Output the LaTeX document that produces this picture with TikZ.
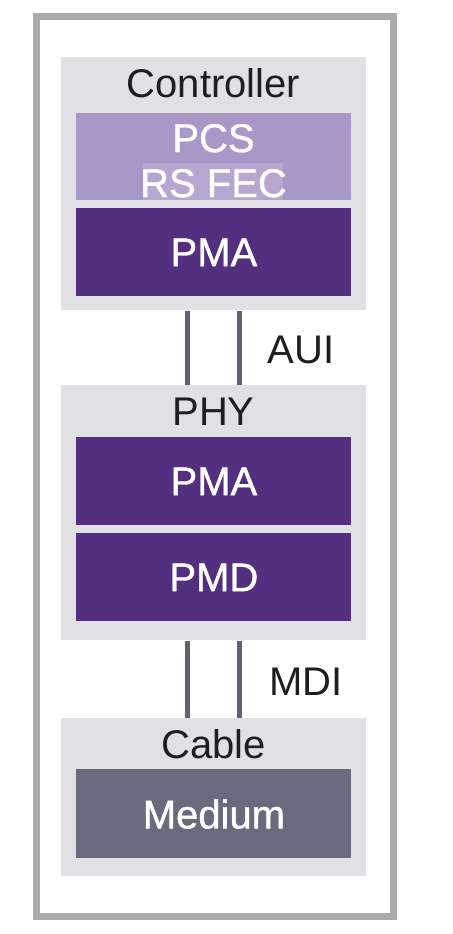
\documentclass[tikz,border=0pt]{standalone}
\usepackage{fontspec}
\setmainfont{Liberation Sans}
\newfontfamily\medfont[BoldFont={Liberation Sans},
                       BoldFeatures={FakeBold=1.0}]{Liberation Sans}
\definecolor{FrameGray}  {RGB}{171,171,171}
\definecolor{LayerGray}  {RGB}{225,225,229}
\definecolor{PurpleLight}{RGB}{168,152,200}
\definecolor{PurpleHi}   {RGB}{181,167,208}
\definecolor{PurpleDark} {RGB}{82,48,127}
\definecolor{MediumGray} {RGB}{103,107,125}
\definecolor{LinkGray}   {RGB}{95,98,119}
\definecolor{TextDark}   {RGB}{30,30,30}
\usetikzlibrary{positioning}

\begin{document}
\begin{tikzpicture}[x=0.5pt,y=-0.5pt,
    layer/.style={fill=LayerGray,draw=none,anchor=north west,
                  minimum width=152.5pt,inner sep=0pt},
    block/.style={draw=none,anchor=north west,minimum width=137.5pt,
                  minimum height=44pt,inner sep=0pt,text=white,
                  text depth=0pt,font=\fontsize{20}{24}\medfont\bfseries},
    title/.style={anchor=base,text=TextDark,inner sep=0pt,
                  font=\fontsize{20}{24}\selectfont},
    whitetitle/.style={title,text=white,
                  font=\fontsize{20}{24}\medfont\bfseries},
    link/.style={LinkGray,line width=2.5pt}]
  \useasboundingbox (0,0) rectangle (452,934);
  %% outer frame
  \draw[FrameGray,line width=3.5pt](36.5,16.5) rectangle (393,916);
  %% Controller
  \node[layer,minimum height=126.5pt](ctrl) at (61,57){};
  \node[title](ctrl-t) at (213.5,97){Controller};
  \node[block,fill=PurpleLight,minimum height=43.5pt](pcs) at (76,113){};
  \fill[PurpleHi](143,163) rectangle (283,200);
  \node[whitetitle](pcs-t) at (213.5,152){PCS};
  \node[whitetitle](fec-t) at (213.5,197){RS FEC};
  \node[block,fill=PurpleDark](pma1) at (76,208){PMA};
  %% PHY
  \node[layer,minimum height=127.5pt](phy) at (61,385){};
  \node[title](phy-t) at (213.5,425){PHY};
  \node[block,fill=PurpleDark](pma2) at (76,437){PMA};
  \node[block,fill=PurpleDark](pmd) at (76,533){PMD};
  %% Cable
  \node[layer,minimum height=79pt](cable) at (61,718){};
  \node[title](cable-t) at (213.5,758){Cable};
  \node[block,fill=MediumGray,minimum height=44.5pt](medium) at (76,769){Medium};
  %% AUI and MDI links
  \draw[link]([xshift=-13.25pt]ctrl.south)--([xshift=-13.25pt]phy.north);
  \draw[link]([xshift=12.75pt]ctrl.south)--([xshift=12.75pt]phy.north);
  \node[title](aui) at (301,363){AUI};
  \draw[link]([xshift=-13.25pt]phy.south)--([xshift=-13.25pt]cable.north);
  \draw[link]([xshift=12.75pt]phy.south)--([xshift=12.75pt]cable.north);
  \node[title](mdi) at (306,695){MDI};
\end{tikzpicture}
\end{document}
